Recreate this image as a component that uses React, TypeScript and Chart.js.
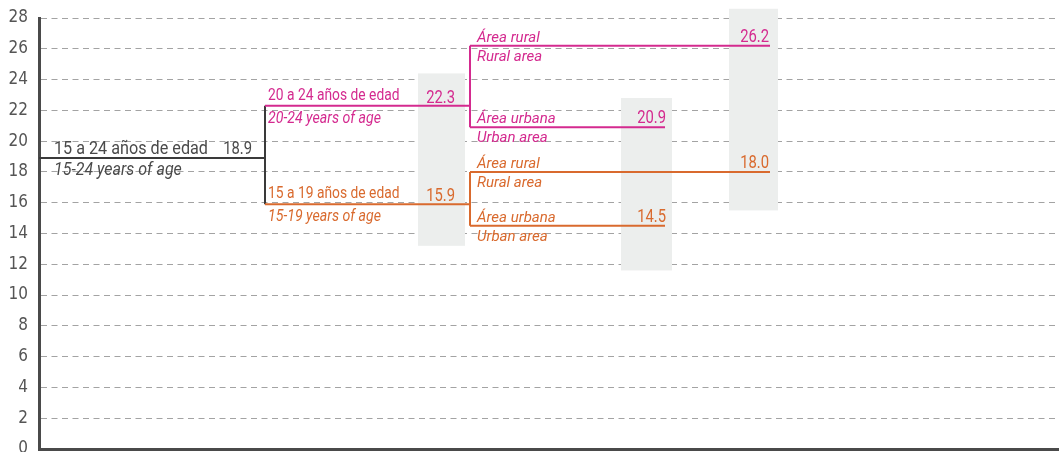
import React, { useEffect, useRef } from "react";
import { Chart, registerables } from "chart.js";

Chart.register(...registerables);

// ---- data ----
const nodeLabelsEs = [
  "15 a 24 años de edad",
  "20 a 24 años de edad",
  "15 a 19 años de edad",
  "Área rural",
  "Área urbana",
  "Área rural",
  "Área urbana",
];
const nodeLabelsEn = [
  "15-24 years of age",
  "20-24 years of age",
  "15-19 years of age",
  "Rural area",
  "Urban area",
  "Rural area",
  "Urban area",
];
const nodeValues = [18.9, 22.3, 15.9, 26.2, 20.9, 18.0, 14.5];
const nodeLevels = [0, 1, 1, 2, 2, 2, 2];
const nodeParents = [-1, 0, 0, 1, 1, 2, 2];
const nodeBranch = ["total", "age20", "age15", "age20", "age20", "age15", "age15"];
const nodeKind = ["total", "age", "age", "rural", "urban", "rural", "urban"];
const bandLow = [13.2, 11.6, 15.5];
const bandHigh = [24.4, 22.8, 28.6];
const yTicks = [0, 2, 4, 6, 8, 10, 12, 14, 16, 18, 20, 22, 24, 26, 28];

// ---- layout / style ----
const X_MAX = 1020;
const levelStart = [0, 226, 431];
const kindEnd: Record<string, number> = { total: 226, age: 431, rural: 731, urban: 626 };
const kindValueRight: Record<string, number> = { total: 213, age: 416, rural: 730, urban: 627 };
const levelTextLeft = [15, 3, 7];
const bandX = [
  [379, 426],
  [582, 633],
  [690, 739],
];
const branchColor: Record<string, string> = {
  total: "#3a3a3a",
  age20: "#d42a8f",
  age15: "#d96a2e",
};
const textColor: Record<string, string> = {
  total: "#4a4a4a",
  age20: "#d42a8f",
  age15: "#d96a2e",
};
const FONT = "Roboto, 'Liberation Sans', sans-serif";
const TICK_FONT = "'Liberation Sans Narrow', 'DejaVu Sans Condensed', Roboto, sans-serif";
const levelFontEs = [17.6, 15.9, 15.5];
const levelScaleEs = [0.92, 0.87, 0.97];
const levelFontEn = [17.6, 15.9, 15.5];
const levelScaleEn = [0.91, 0.89, 0.97];
const VALUE_FONT = 18.5;
const VALUE_SCALE = 0.8;

function buildDatasets() {
  const ds: any[] = [];
  nodeValues.forEach((v, i) => {
    const lvl = nodeLevels[i];
    ds.push({
      type: "line",
      data: [
        { x: levelStart[lvl], y: v },
        { x: kindEnd[nodeKind[i]], y: v },
      ],
      borderColor: branchColor[nodeBranch[i]],
      borderWidth: 2,
      pointRadius: 0,
      fill: false,
      clip: false,
    });
  });
  // connectors from each parent to its children
  nodeValues.forEach((_, p) => {
    const kids = nodeParents.map((pp, i) => (pp === p ? i : -1)).filter((i) => i >= 0);
    if (!kids.length) return;
    const vals = kids.map((k) => nodeValues[k]);
    const x = kindEnd[nodeKind[p]];
    ds.push({
      type: "line",
      data: [
        { x, y: Math.min(...vals) },
        { x, y: Math.max(...vals) },
      ],
      borderColor: branchColor[nodeBranch[p]],
      borderWidth: 2,
      pointRadius: 0,
      fill: false,
      clip: false,
    });
  });
  return ds;
}

function drawText(
  ctx: CanvasRenderingContext2D,
  text: string,
  x: number,
  y: number,
  font: string,
  align: CanvasTextAlign,
  sx: number
) {
  ctx.save();
  ctx.translate(x, y);
  ctx.scale(sx, 1);
  ctx.font = font;
  ctx.textAlign = align;
  ctx.textBaseline = "alphabetic";
  ctx.fillText(text, 0, 0);
  ctx.restore();
}

const bandPlugin = {
  id: "bands",
  beforeDatasetsDraw(chart: any) {
    const { ctx, scales } = chart;
    const xs = scales.x;
    const ys = scales.y;
    ctx.save();
    ctx.fillStyle = "#eceeed";
    bandLow.forEach((lo, i) => {
      const x0 = xs.getPixelForValue(bandX[i][0]);
      const x1 = xs.getPixelForValue(bandX[i][1]);
      const y0 = ys.getPixelForValue(bandHigh[i]);
      const y1 = ys.getPixelForValue(lo);
      ctx.fillRect(x0, y0, x1 - x0, y1 - y0);
    });
    ctx.restore();
  },
};

const labelPlugin = {
  id: "treeLabels",
  afterDatasetsDraw(chart: any) {
    const { ctx, scales } = chart;
    const xs = scales.x;
    const ys = scales.y;
    nodeValues.forEach((v, i) => {
      const lvl = nodeLevels[i];
      ctx.fillStyle = textColor[nodeBranch[i]];
      const y = ys.getPixelForValue(v);
      const left = xs.getPixelForValue(levelStart[lvl] + levelTextLeft[lvl]);
      const italicEs = lvl === 2 ? "italic " : "";
      drawText(
        ctx,
        nodeLabelsEs[i],
        left,
        y - (lvl === 1 ? 6 : 4),
        `${italicEs}${levelFontEs[lvl]}px ${FONT}`,
        "left",
        levelScaleEs[lvl]
      );
      drawText(
        ctx,
        nodeLabelsEn[i],
        left,
        y + (lvl === 2 ? 15 : 17),
        `italic ${levelFontEn[lvl]}px ${FONT}`,
        "left",
        levelScaleEn[lvl]
      );
      drawText(
        ctx,
        v.toFixed(1),
        xs.getPixelForValue(kindValueRight[nodeKind[i]]),
        y - (lvl === 1 ? 3 : 4),
        `${VALUE_FONT}px ${FONT}`,
        "right",
        VALUE_SCALE
      );
    });
  },
};

export default function App() {
  const ref = useRef<HTMLCanvasElement | null>(null);
  useEffect(() => {
    document.body.style.margin = "0";
    document.body.style.overflow = "hidden";
    const chart = new Chart(ref.current as HTMLCanvasElement, {
      type: "line",
      data: { datasets: buildDatasets() },
      plugins: [bandPlugin, labelPlugin],
      options: {
        animation: false,
        responsive: false,
        events: [],
        layout: { padding: { top: 18, right: 0, left: 0, bottom: 3 } },
        plugins: { legend: { display: false }, tooltip: { enabled: false } },
        scales: {
          x: {
            type: "linear",
            min: 0,
            max: X_MAX,
            display: true,
            z: 1,
            grid: { display: false },
            ticks: { display: false },
            border: { display: true, color: "#4a4a4a", width: 3 },
            afterFit: (s: any) => {
              s.height = 0;
              s.paddingLeft = 0;
              s.paddingRight = 0;
            },
          },
          y: {
            type: "linear",
            min: 0,
            max: 28,
            z: 1,
            afterBuildTicks: (s: any) => {
              s.ticks = yTicks.map((value) => ({ value }));
            },
            afterFit: (s: any) => {
              s.width = 39;
              s.paddingTop = 0;
              s.paddingBottom = 0;
            },
            grid: { color: "#a3a3a3", lineWidth: 1, drawTicks: false },
            border: { display: true, color: "#4a4a4a", width: 3, dash: [6, 4.5] },
            ticks: {
              color: "#555555",
              padding: 11,
              font: { family: TICK_FONT, size: 17 },
            },
          },
        },
      },
    });
    return () => chart.destroy();
  }, []);
  return <canvas ref={ref} width={1059} height={452} style={{ display: "block" }} />;
}
